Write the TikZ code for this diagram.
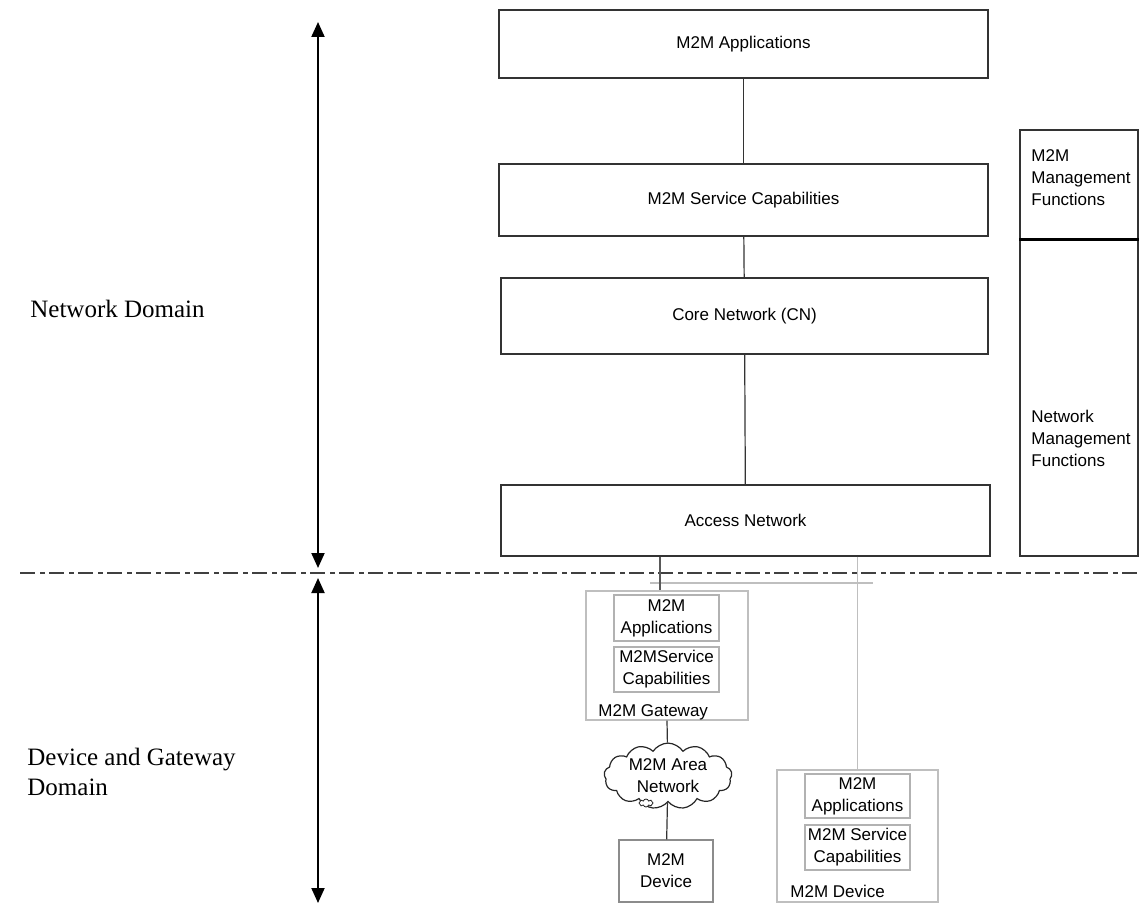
\documentclass[tikz,border=0pt]{standalone}
\usepackage{fontspec}
\setmainfont{Liberation Serif}
\setsansfont{Liberation Sans}
\usetikzlibrary{arrows.meta, shapes.symbols}

\begin{document}
\begin{tikzpicture}[x=0.5pt,y=-0.5pt,
  layerbox/.style={draw=black!80, line width=0.6pt, fill=white, inner sep=0pt,
    font=\sffamily\fontsize{8.5}{11}\selectfont},
  subbox/.style={draw=black!25, line width=0.6pt, inner sep=0pt,
    font=\sffamily\fontsize{8.5}{11}\selectfont, align=center},
  txt/.style={inner sep=0pt, font=\sffamily\fontsize{8.5}{11}\selectfont, align=left},
  domaintxt/.style={inner sep=0pt, font=\fontsize{12.5}{15}\selectfont, align=left},
  spanarrow/.style={line width=1pt, {Triangle[width=6.5pt,length=7.5pt]}-{Triangle[width=6.5pt,length=7.5pt]}}]
\useasboundingbox (0,0) rectangle (1139,904);

% network domain
\node [layerbox, minimum width=244.5pt, minimum height=34pt] (apps) at (743.5,44)  {M2M Applications};
\node [layerbox, minimum width=244.5pt, minimum height=36pt] (sc)   at (743.5,200) {M2M Service Capabilities};
\node [layerbox, minimum width=243.5pt, minimum height=38pt] (cn)   at (744.5,316) {Core Network (CN)};
\node [layerbox, minimum width=244.5pt, minimum height=35.5pt] (an) at (745.5,520.5) {Access Network};
\draw [black!80, line width=0.6pt] (apps) -- (sc);
\draw [black!80, line width=0.6pt] (sc) -- (cn);
\draw [black!80, line width=0.6pt] (cn) -- (an);

% management column
\node [layerbox, minimum width=59pt, minimum height=55pt]  (mgmt)    at (1079,185) {};
\node [layerbox, minimum width=59pt, minimum height=158pt] (netmgmt) at (1079,398) {};
\draw [black, line width=1.1pt] (netmgmt.north west) -- (netmgmt.north east);
\node [txt, anchor=north west] (mgmttxt)    at (1031,149) {M2M\\Management\\Functions};
\node [txt, anchor=north west] (netmgmttxt) at (1031,410) {Network\\Management\\Functions};

% domains
\coordinate (dl) at (20,573);
\coordinate (dr) at (1139,573);
\draw [black!75, line width=1.2pt, dash pattern=on 7.5pt off 2.5pt on 2.5pt off 2pt] (dl) -- (dr);
\coordinate (ntop) at (318,22);
\coordinate (nbot) at (318,568);
\coordinate (dtop) at (318,578);
\coordinate (dbot) at (318,903);
\draw [spanarrow] (ntop) -- (nbot);
\draw [spanarrow] (dtop) -- (dbot);
\node [domaintxt, anchor=base west] (netdom) at (30,317) {Network Domain};
\node [domaintxt, anchor=north west] (devdom) at (27,748) {Device and Gateway\\Domain};

% gateway
\node [subbox, minimum width=81pt, minimum height=64.5pt] (gw) at (667,655.5) {};
\node [subbox, draw=black!30, minimum width=52.5pt, minimum height=23pt]   (gwapps) at (666.5,618)   {M2M\\Applications};
\node [subbox, draw=black!30, minimum width=52.5pt, minimum height=22.5pt] (gwsc)   at (666.5,669.5) {M2MService\\Capabilities};
\node [txt, anchor=base west] (gwtxt) at (598,716) {M2M Gateway};

% device with own capabilities
\node [subbox, minimum width=80.5pt, minimum height=66pt] (rdev) at (857.5,836) {};
\node [subbox, draw=black!30, minimum width=52.5pt, minimum height=22pt]   (rapps) at (857.5,796)   {M2M\\Applications};
\node [subbox, draw=black!30, minimum width=52.5pt, minimum height=22.5pt] (rsc)   at (857.5,847.5) {M2M Service\\Capabilities};
\node [txt, anchor=base west] (rdevtxt) at (790,897) {M2M Device};

% area network and plain device
\node [cloud, cloud puffs=13, cloud puff arc=115, aspect=2.1, draw=black!85, line width=0.6pt,
  inner sep=0pt, minimum width=64pt, minimum height=31pt, align=center,
  font=\sffamily\fontsize{8.5}{11}\selectfont] (area) at (668,776) {M2M Area\\Network};
\node [cloud, cloud puffs=8, aspect=1.8, draw=black!85, fill=white, line width=0.4pt,
  inner sep=0pt, minimum width=7pt, minimum height=4pt] (icon) at (646,803) {};
\node [layerbox, draw=black!45, align=center, minimum width=47pt, minimum height=31pt] (dev) at (666,871) {M2M\\Device};

% links
\coordinate (hl) at (650,583);
\coordinate (hr) at (873,583);
\draw [black!25, line width=0.6pt] (hl) -- (hr);
\draw [black!65, line width=0.6pt] ([xshift=-3.5pt]gw.north |- an.south) -- ([xshift=-3.5pt]gw.north);
\draw [black!25, line width=0.6pt] (an.south -| rdev.north) -- (rdev.north);
\draw [black!80, line width=0.6pt] (gw.south) -- (area);
\draw [black!80, line width=0.6pt] (area) -- (dev);
\end{tikzpicture}
\end{document}
